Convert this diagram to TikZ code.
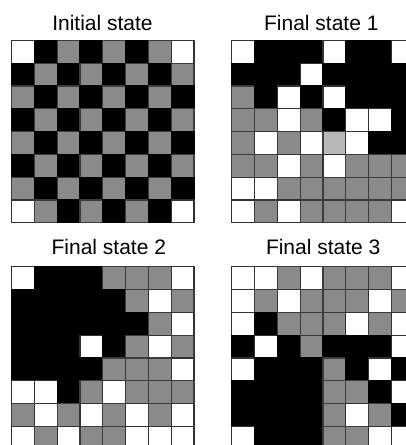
\documentclass[tikz,border=0pt]{standalone}
\usepackage{fontspec}
\setmainfont{Liberation Sans}
\definecolor{cellW}{RGB}{255, 255, 255}
\definecolor{cellB}{RGB}{0, 0, 0}
\definecolor{cellG}{RGB}{138, 138, 138}
\definecolor{cellL}{RGB}{184, 184, 184}
\definecolor{edgeW}{RGB}{50, 50, 50}
\definecolor{edgeB}{RGB}{0, 0, 0}
\definecolor{edgeG}{RGB}{60, 60, 60}
\definecolor{edgeL}{RGB}{60, 60, 60}
\tikzset{
  cell/.style={line width=1.2pt},
  statetitle/.style={anchor=base, font=\fontsize{21}{25}\selectfont}
}

\begin{document}
\begin{tikzpicture}[x=1pt, y=-1pt]
  \useasboundingbox (0,0) rectangle (406,445);
  \clip (0,0) rectangle (406,445);
  % initial state
  \node[statetitle] (init) at (102.5, 30.7) {Initial state};
  \foreach \row [count=\r from 0] in {
    {W,B,G,B,G,B,G,W},
    {B,G,B,G,B,G,B,G},
    {G,B,G,B,G,B,G,B},
    {B,G,B,G,B,G,B,G},
    {G,B,G,B,G,B,G,B},
    {B,G,B,G,B,G,B,G},
    {G,B,G,B,G,B,G,B},
    {W,G,B,G,B,G,B,W}%
  } {
    \foreach \c [count=\k from 0] in \row {
      \pgfmathsetmacro{\x}{11.5+\k*22.8}
      \pgfmathsetmacro{\y}{40.3+\r*22.8}
      \filldraw[cell, fill=cell\c, draw=edge\c] (\x,\y) rectangle ++(22.8,22.8);
    }
  }
  % final state 1
  \node[statetitle] (final1) at (321.3, 30.7) {Final state 1};
  \foreach \row [count=\r from 0] in {
    {W,B,B,B,W,B,B,W},
    {B,B,B,W,B,B,B,B},
    {G,B,W,B,W,B,B,B},
    {G,G,W,G,B,W,W,B},
    {G,W,G,W,L,W,B,B},
    {G,G,W,G,W,G,G,G},
    {W,W,G,G,G,G,G,G},
    {W,G,W,G,G,G,G,W}%
  } {
    \foreach \c [count=\k from 0] in \row {
      \pgfmathsetmacro{\x}{231.7+\k*22.8}
      \pgfmathsetmacro{\y}{40.3+\r*22.8}
      \filldraw[cell, fill=cell\c, draw=edge\c] (\x,\y) rectangle ++(22.8,22.8);
    }
  }
  % final state 2
  \node[statetitle] (final2) at (108.8, 254.7) {Final state 2};
  \foreach \row [count=\r from 0] in {
    {W,B,B,B,G,G,G,W},
    {B,B,B,B,B,G,W,G},
    {B,B,B,B,B,B,G,W},
    {B,B,B,W,B,G,W,G},
    {B,B,B,B,G,G,G,W},
    {W,W,B,G,W,G,G,G},
    {G,W,G,W,G,W,G,W},
    {W,G,W,G,G,W,W,W}%
  } {
    \foreach \c [count=\k from 0] in \row {
      \pgfmathsetmacro{\x}{11.5+\k*22.8}
      \pgfmathsetmacro{\y}{266.7+\r*22.8}
      \filldraw[cell, fill=cell\c, draw=edge\c] (\x,\y) rectangle ++(22.8,22.8);
    }
  }
  % final state 3
  \node[statetitle] (final3) at (323.2, 254.7) {Final state 3};
  \foreach \row [count=\r from 0] in {
    {W,W,G,W,G,G,G,W},
    {W,G,W,G,G,G,W,G},
    {W,B,G,G,G,W,G,W},
    {B,W,B,G,B,B,B,W},
    {W,B,B,B,G,B,W,B},
    {B,B,B,B,G,G,B,W},
    {B,B,B,B,G,W,G,B},
    {W,B,B,B,G,G,W,W}%
  } {
    \foreach \c [count=\k from 0] in \row {
      \pgfmathsetmacro{\x}{231.7+\k*22.8}
      \pgfmathsetmacro{\y}{266.7+\r*22.8}
      \filldraw[cell, fill=cell\c, draw=edge\c] (\x,\y) rectangle ++(22.8,22.8);
    }
  }
\end{tikzpicture}
\end{document}
